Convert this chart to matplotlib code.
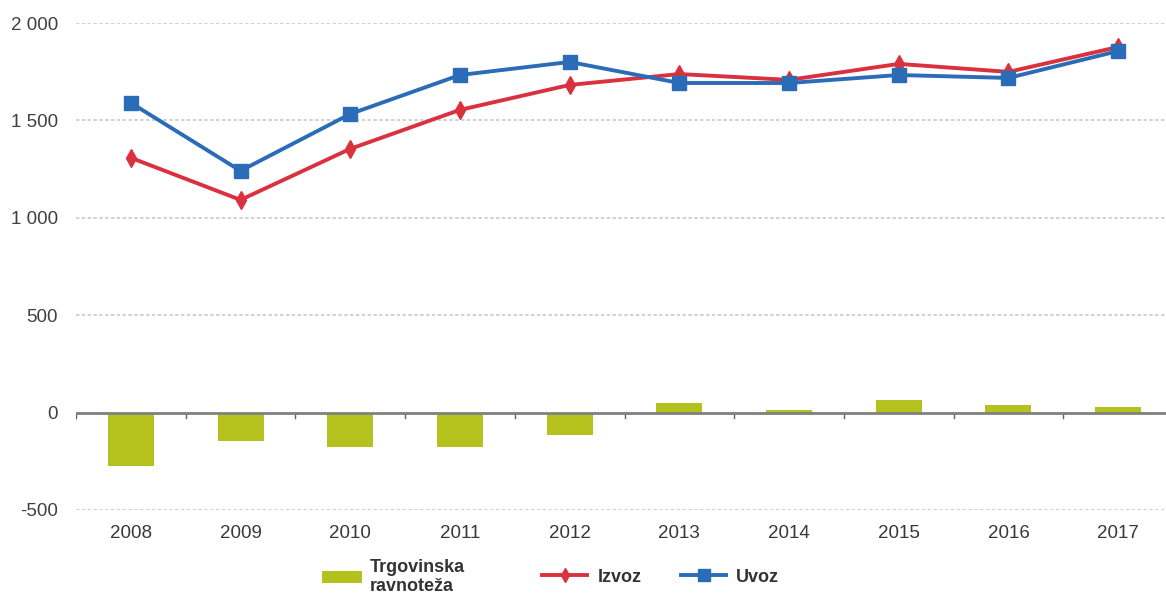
import matplotlib
matplotlib.use("Agg")
import matplotlib.pyplot as plt
from matplotlib.lines import Line2D
from matplotlib.patches import Patch
import numpy as np

plt.rcParams['font.family'] = ['Liberation Sans', 'DejaVu Sans']

years = ['2008', '2009', '2010', '2011', '2012', '2013', '2014', '2015', '2016', '2017']
izvoz = [1308, 1092, 1354, 1554, 1682, 1738, 1708, 1790, 1749, 1877]
uvoz = [1590, 1241, 1533, 1733, 1800, 1692, 1692, 1733, 1718, 1856]
ravnoteza = [-275, -147, -176, -176, -115, 50, 12, 67, 38, 29]
yticks = [-500, 0, 500, 1000, 1500, 2000]
ytick_labels = ['-500', '0', '500', '1 000', '1 500', '2 000']

c_bar = '#b5c11c'
c_red = '#d9323e'
c_blue = '#2a6cb8'

W, H = 1166, 599
fig = plt.figure(figsize=(W / 100, H / 100), dpi=100)
ax = fig.add_axes([76 / W, 1 - 510 / H, 1097 / W, (510 - 23) / H])

x = np.arange(len(years))
ax.bar(x, ravnoteza, width=0.42, color=c_bar, zorder=2)
ax.plot(x, izvoz, color=c_red, lw=2.8, marker='d', ms=9, zorder=3)
ax.plot(x, uvoz, color=c_blue, lw=2.8, marker='s', ms=10, zorder=4)

ax.set_xlim(-0.5, len(years) - 0.5)
ax.set_ylim(-500, 2000)
ax.set_yticks(yticks)
ax.set_yticklabels(ytick_labels, fontsize=13.5, color='#404040')
for yv in yticks:
    if yv != 0:
        ax.axhline(yv, color='#c8c8c8', lw=1.2, ls=(0, (2, 1.5)), zorder=0)
ax.axhline(0, color='#808080', lw=2, zorder=2.5)

ax.set_xticks(x)
ax.set_xticklabels(years, fontsize=13.5, color='#383838')
ax.tick_params(axis='x', length=0, pad=11)
ax.tick_params(axis='y', length=0, pad=13)
for b in np.arange(-0.5, len(years), 1.0):
    ax.plot([b, b], [0, -30], color='#606060', lw=1, zorder=2.4)

for s in ax.spines.values():
    s.set_visible(False)

prop = {'size': 13, 'weight': 'bold'}
leg1 = fig.legend([Patch(facecolor=c_bar, edgecolor='none')], ['Trgovinska\nravnoteža'],
                  loc='center left', bbox_to_anchor=(306 / W, 1 - 577 / H),
                  frameon=False, prop=prop, handlelength=2.2, handleheight=0.6,
                  handletextpad=0.45)
line_handles = [
    Line2D([], [], color=c_red, lw=2.8, marker='d', ms=7),
    Line2D([], [], color=c_blue, lw=2.8, marker='s', ms=8),
]
leg2 = fig.legend(line_handles, ['Izvoz', 'Uvoz'], ncol=2,
                  loc='center left', bbox_to_anchor=(526 / W, 1 - 577 / H),
                  frameon=False, prop=prop, handlelength=2.5,
                  handletextpad=0.55, columnspacing=2.2)
for lg in (leg1, leg2):
    for t in lg.get_texts():
        t.set_color('#333333')

fig.savefig('out.png', dpi=100)
